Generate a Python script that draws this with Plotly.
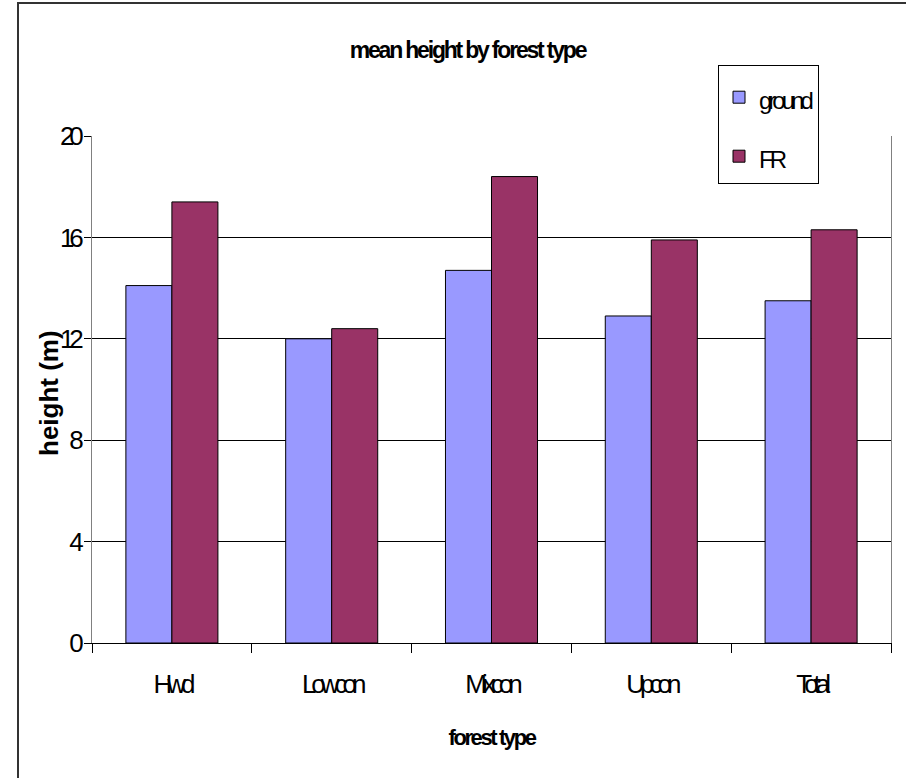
import plotly.graph_objects as go

# Mean tree height (m) per forest type, ground survey vs FR estimate
forest_types = ["Hwd", "Lowcon", "Mixcon", "Upcon", "Total"]
ground_height = [14.1, 12.0, 14.7, 12.9, 13.5]
fr_height = [17.4, 12.4, 18.4, 15.9, 16.3]
y_ticks = [0, 4, 8, 12, 16, 20]

FONT = "Liberation Sans, Arial, sans-serif"


def tight(text, px, size=None):
    """Wrap text in a span with negative letter spacing (condensed look)."""
    style = f"letter-spacing:{px}px"
    if size:
        style += f";font-size:{size}px"
    return f'<span style="{style}">{text}</span>'


fig = go.Figure()
fig.add_trace(go.Bar(
    x=forest_types, y=ground_height, name=tight("ground", -4, 24),
    legendgroup="ground",
    marker=dict(color="#9999FF", line=dict(color="#000000", width=1)),
))
fig.add_trace(go.Bar(
    x=forest_types, y=fr_height, name=tight("FR", -4, 24),
    legendgroup="fr",
    marker=dict(color="#993366", line=dict(color="#000000", width=1)),
))

fig.update_layout(
    width=906, height=778,
    margin=dict(l=92, r=15, t=136, b=135),
    paper_bgcolor="white", plot_bgcolor="white",
    font=dict(family=FONT, color="black"),
    barmode="group", bargap=0.424, bargroupgap=0,
    title=dict(
        text=tight("<b>mean height by forest type</b>", -2.2),
        font=dict(size=23, family=FONT, color="black"),
        x=0.47, xref="paper", xanchor="center",
        y=1 - 50 / 778, yref="container", yanchor="middle",
    ),
    legend=dict(
        x=(718 - 92) / 799, y=(643 - 65) / 507,
        xanchor="left", yanchor="top",
        bgcolor="white", bordercolor="#000000", borderwidth=1,
        font=dict(size=30, family=FONT, color="black"),
        tracegroupgap=17, traceorder="grouped",
        itemwidth=30,
        title=dict(text=" ", font=dict(size=4)),
    ),
    xaxis=dict(
        type="category",
        tickvals=forest_types,
        ticktext=[tight(c, -5) for c in forest_types],
        tickfont=dict(size=26, family=FONT, color="black"),
        showline=True, linecolor="#000000", linewidth=1,
        ticks="outside", tickson="boundaries", ticklen=9,
        tickcolor="#000000", tickwidth=1,
        ticklabelstandoff=18,
        showgrid=False,
        title=dict(
            text=tight("<b>forest type</b>", -2.4),
            font=dict(size=22, family=FONT, color="black"),
            standoff=31,
        ),
    ),
    yaxis=dict(
        range=[0, 20],
        tickvals=y_ticks,
        ticktext=[tight(str(v), -5) for v in y_ticks],
        tickfont=dict(size=26, family=FONT, color="black"),
        showline=True, linecolor="#808080", linewidth=1, mirror=True,
        ticks="outside", ticklen=7, tickcolor="#000000", tickwidth=1,
        showgrid=True, gridcolor="#000000", gridwidth=1,
        zeroline=False,
    ),
)

# Y-axis title, placed just left of the tick labels
fig.add_annotation(
    text="<b>height (m)</b>", textangle=-90,
    xref="paper", yref="paper",
    x=(49 - 92) / 799, y=(643 - 393) / 507,
    xanchor="center", yanchor="middle", showarrow=False,
    font=dict(size=26, family=FONT, color="black"),
)

# Outer chart frame (top and left edges visible)
fig.add_shape(
    type="rect", xref="paper", yref="paper",
    x0=(18 - 92) / 799, x1=1.2,
    y0=-0.5, y1=(643 - 3) / 507,
    line=dict(color="#333333", width=2),
    fillcolor="rgba(0,0,0,0)", layer="below",
)

fig.write_html("out.html")
